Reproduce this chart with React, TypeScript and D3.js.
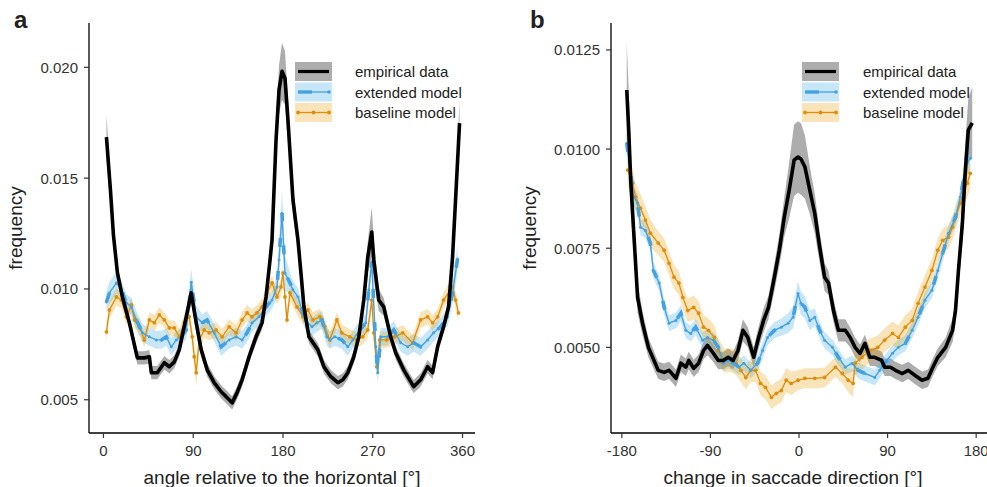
import React from 'react'
import * as d3 from 'd3'

// ---- panel a : angle relative to the horizontal ----
const angleEmpA = [3, 7, 10, 14, 19, 26, 34, 41, 46, 48, 54, 61, 66, 71, 76, 83, 88, 93, 98, 104, 111, 118, 123, 129, 134, 139, 146, 153, 159, 163, 167, 169, 173, 176, 179, 182, 185, 190, 195, 198, 201, 206, 215, 221, 228, 235, 240, 245, 251, 256, 261, 265, 269, 271, 276, 281, 288, 293, 301, 311, 318, 325, 330, 335, 341, 346, 350, 353, 357]
const empA = [0.01685, 0.01446, 0.01243, 0.01072, 0.00964, 0.00847, 0.00689, 0.00689, 0.00694, 0.00622, 0.00622, 0.00667, 0.00649, 0.00671, 0.00725, 0.00874, 0.00982, 0.00847, 0.00725, 0.00635, 0.00577, 0.00536, 0.00514, 0.00486, 0.00532, 0.0059, 0.00694, 0.00784, 0.00847, 0.00964, 0.01131, 0.01221, 0.01671, 0.01897, 0.01982, 0.01951, 0.01761, 0.01401, 0.01221, 0.01072, 0.00919, 0.00784, 0.00725, 0.00649, 0.00604, 0.00577, 0.0059, 0.00622, 0.00694, 0.00784, 0.0095, 0.01144, 0.01257, 0.01131, 0.0095, 0.00919, 0.00784, 0.00712, 0.00635, 0.00559, 0.0059, 0.00649, 0.00622, 0.00739, 0.00829, 0.00919, 0.01144, 0.01401, 0.01748]
const empSeA = [0.001, 0.0007, 0.0005, 0.0004, 0.0003, 0.0003, 0.0003, 0.0003, 0.0003, 0.0003, 0.0003, 0.0003, 0.0003, 0.0003, 0.0003, 0.0004, 0.0005, 0.0004, 0.0003, 0.0003, 0.0003, 0.0003, 0.0003, 0.0003, 0.0003, 0.0003, 0.0003, 0.0003, 0.0003, 0.0004, 0.0005, 0.0006, 0.0009, 0.0011, 0.0013, 0.0012, 0.001, 0.0007, 0.0005, 0.0004, 0.0004, 0.0003, 0.0003, 0.0003, 0.0003, 0.0003, 0.0003, 0.0003, 0.0003, 0.0003, 0.0004, 0.0007, 0.0011, 0.0009, 0.0005, 0.0004, 0.0003, 0.0003, 0.0003, 0.0003, 0.0003, 0.0003, 0.0003, 0.0003, 0.0003, 0.0004, 0.0005, 0.0007, 0.001]

const angleExtA = [3, 6, 13, 18, 23, 28, 33, 39, 46, 53, 58, 63, 68, 73, 78, 83, 88, 93, 99, 104, 111, 118, 126, 133, 139, 144, 149, 156, 163, 169, 174, 176, 179, 182, 187, 190, 195, 202, 209, 214, 219, 224, 227, 232, 239, 245, 250, 257, 263, 266, 269, 273, 275, 278, 285, 291, 298, 305, 311, 318, 325, 331, 338, 345, 350, 355]
const extA = [0.00941, 0.00982, 0.01027, 0.00996, 0.00937, 0.00919, 0.0086, 0.00802, 0.00784, 0.0077, 0.0077, 0.00784, 0.00739, 0.0077, 0.00784, 0.00815, 0.0103, 0.00874, 0.00847, 0.0086, 0.00802, 0.00739, 0.0077, 0.00784, 0.0077, 0.00802, 0.00847, 0.00874, 0.00919, 0.0095, 0.01009, 0.01131, 0.01342, 0.01072, 0.01027, 0.00996, 0.00964, 0.0086, 0.00829, 0.00847, 0.0086, 0.00784, 0.0077, 0.00784, 0.0077, 0.00739, 0.0077, 0.00815, 0.00847, 0.00996, 0.01122, 0.00739, 0.00622, 0.00784, 0.00784, 0.00815, 0.00757, 0.00739, 0.00757, 0.00739, 0.0077, 0.00802, 0.00829, 0.00874, 0.00982, 0.01135]
const extSeA = [0.0005, 0.0005, 0.0005, 0.0004, 0.0004, 0.0004, 0.0004, 0.0004, 0.0004, 0.0004, 0.0004, 0.0004, 0.0004, 0.0004, 0.0004, 0.0004, 0.0006, 0.0005, 0.0004, 0.0004, 0.0004, 0.0004, 0.0004, 0.0004, 0.0004, 0.0004, 0.0004, 0.0004, 0.0004, 0.0004, 0.0005, 0.0008, 0.001, 0.0008, 0.0005, 0.0004, 0.0004, 0.0004, 0.0004, 0.0004, 0.0004, 0.0004, 0.0004, 0.0004, 0.0004, 0.0004, 0.0004, 0.0004, 0.0004, 0.0005, 0.0006, 0.0005, 0.0005, 0.0004, 0.0004, 0.0004, 0.0004, 0.0004, 0.0004, 0.0004, 0.0004, 0.0004, 0.0004, 0.0004, 0.0005, 0.0006]

const angleBaseA = [3, 6, 13, 18, 23, 28, 31, 36, 41, 46, 51, 56, 61, 66, 71, 76, 81, 86, 89, 91, 93, 96, 101, 106, 113, 119, 126, 133, 139, 144, 149, 154, 159, 164, 169, 174, 178, 180, 182, 184, 187, 194, 200, 205, 210, 217, 222, 227, 234, 239, 247, 254, 260, 265, 269, 271, 274, 277, 284, 292, 300, 310, 318, 325, 330, 335, 341, 350, 353, 356]
const baseA = [0.00806, 0.00905, 0.00964, 0.0095, 0.00874, 0.00928, 0.0086, 0.00829, 0.0077, 0.0086, 0.00847, 0.00883, 0.0086, 0.00824, 0.00824, 0.00784, 0.00847, 0.00874, 0.00784, 0.00694, 0.00622, 0.0077, 0.00815, 0.00802, 0.00815, 0.00784, 0.00829, 0.00802, 0.0086, 0.00892, 0.00874, 0.00892, 0.00919, 0.00982, 0.01027, 0.00964, 0.01009, 0.01072, 0.00964, 0.0086, 0.00982, 0.00919, 0.00874, 0.00905, 0.0086, 0.00874, 0.00829, 0.0077, 0.0086, 0.00802, 0.00784, 0.0077, 0.00784, 0.00815, 0.0095, 0.00802, 0.00649, 0.0077, 0.0077, 0.00784, 0.00802, 0.00757, 0.0086, 0.00874, 0.00847, 0.00874, 0.0095, 0.01009, 0.0095, 0.00892]
const baseSeA = [0.0004, 0.0004, 0.0004, 0.00035, 0.00035, 0.00035, 0.00035, 0.00035, 0.00035, 0.00035, 0.00035, 0.00035, 0.00035, 0.00035, 0.00035, 0.00035, 0.00035, 0.00035, 0.0004, 0.0005, 0.0006, 0.0005, 0.00035, 0.00035, 0.00035, 0.00035, 0.00035, 0.00035, 0.00035, 0.00035, 0.00035, 0.00035, 0.00035, 0.00035, 0.00035, 0.00035, 0.0004, 0.0004, 0.0004, 0.0004, 0.00035, 0.00035, 0.00035, 0.00035, 0.00035, 0.00035, 0.00035, 0.00035, 0.00035, 0.00035, 0.00035, 0.00035, 0.00035, 0.00035, 0.0004, 0.0004, 0.0005, 0.0004, 0.00035, 0.00035, 0.00035, 0.00035, 0.00035, 0.00035, 0.00035, 0.00035, 0.00035, 0.0004, 0.0004, 0.0004]

// ---- panel b : change in saccade direction ----
const angleEmpB = [-175, -173, -171, -168, -164, -159, -153, -143, -137, -132, -125, -120, -115, -112, -107, -102, -97, -93, -87, -82, -77, -72, -67, -62, -57, -52, -46, -41, -36, -31, -25, -20, -15, -10, -5, -1, 2, 6, 11, 16, 21, 26, 30, 35, 40, 47, 52, 57, 62, 67, 72, 77, 84, 87, 93, 98, 105, 111, 118, 125, 131, 136, 141, 149, 156, 159, 162, 166, 169, 172, 176]
const empB = [0.01149, 0.01048, 0.00922, 0.00795, 0.00626, 0.00561, 0.005, 0.00442, 0.00437, 0.00442, 0.00422, 0.0046, 0.0045, 0.00467, 0.00447, 0.0046, 0.00492, 0.00505, 0.00485, 0.00467, 0.00467, 0.00475, 0.00467, 0.00492, 0.00543, 0.00525, 0.00475, 0.00525, 0.00568, 0.00601, 0.00677, 0.00745, 0.00828, 0.00896, 0.00972, 0.0098, 0.00975, 0.00955, 0.00896, 0.00838, 0.00753, 0.00677, 0.00662, 0.00593, 0.00543, 0.00543, 0.00525, 0.005, 0.00485, 0.0051, 0.00475, 0.00475, 0.00467, 0.0045, 0.0045, 0.00442, 0.00434, 0.00442, 0.00429, 0.00417, 0.00422, 0.0045, 0.00475, 0.005, 0.00543, 0.00593, 0.00694, 0.00813, 0.00947, 0.01048, 0.01066]
const empSeB = [0.0012, 0.001, 0.0008, 0.0006, 0.0004, 0.0003, 0.00025, 0.00022, 0.00022, 0.00022, 0.00022, 0.00022, 0.00022, 0.00022, 0.00022, 0.00022, 0.00022, 0.00025, 0.00022, 0.00022, 0.00022, 0.00022, 0.00022, 0.00025, 0.00028, 0.00025, 0.00025, 0.00028, 0.0003, 0.0003, 0.00035, 0.0004, 0.0005, 0.0007, 0.0009, 0.0009, 0.0009, 0.0008, 0.0006, 0.0005, 0.0004, 0.00035, 0.0003, 0.0003, 0.00028, 0.00028, 0.00025, 0.00025, 0.00022, 0.00022, 0.00022, 0.00022, 0.00022, 0.00022, 0.00022, 0.00022, 0.00022, 0.00022, 0.00022, 0.00022, 0.00022, 0.00022, 0.00022, 0.00025, 0.0003, 0.00035, 0.0004, 0.0005, 0.0007, 0.0008, 0.0009]

const angleExtB = [-175, -171, -168, -164, -161, -156, -151, -148, -142, -137, -132, -125, -120, -115, -110, -105, -98, -93, -87, -82, -77, -72, -66, -61, -56, -49, -42, -37, -32, -25, -18, -11, -6, -1, 2, 6, 11, 16, 21, 26, 34, 40, 47, 54, 60, 67, 77, 82, 87, 95, 101, 108, 115, 121, 128, 135, 141, 146, 152, 159, 164, 167, 171, 174]
const extB = [0.01015, 0.00939, 0.00879, 0.00864, 0.00803, 0.00795, 0.00763, 0.00694, 0.00662, 0.00601, 0.00561, 0.00568, 0.00586, 0.00543, 0.00535, 0.00551, 0.00518, 0.00525, 0.00518, 0.005, 0.0046, 0.00467, 0.0046, 0.0045, 0.0046, 0.00442, 0.0046, 0.00492, 0.00525, 0.00543, 0.00551, 0.00561, 0.00576, 0.00636, 0.00611, 0.00601, 0.00568, 0.00576, 0.00543, 0.00518, 0.005, 0.00475, 0.0045, 0.0046, 0.00442, 0.00434, 0.00424, 0.00442, 0.0046, 0.00485, 0.005, 0.0051, 0.00543, 0.00576, 0.00619, 0.00644, 0.00694, 0.00737, 0.00788, 0.00828, 0.00879, 0.00922, 0.00965, 0.00977]
const extSeB = [0.0004, 0.0003, 0.00025, 0.00022, 0.0002, 0.0002, 0.0002, 0.0002, 0.0002, 0.0002, 0.0002, 0.0002, 0.0002, 0.0002, 0.0002, 0.0002, 0.0002, 0.0002, 0.0002, 0.0002, 0.0002, 0.0002, 0.0002, 0.0002, 0.0002, 0.0002, 0.0002, 0.0002, 0.0002, 0.0002, 0.00022, 0.00025, 0.00028, 0.0003, 0.0003, 0.00028, 0.00025, 0.00022, 0.0002, 0.0002, 0.0002, 0.0002, 0.0002, 0.0002, 0.0002, 0.0002, 0.0002, 0.0002, 0.0002, 0.0002, 0.0002, 0.0002, 0.0002, 0.0002, 0.0002, 0.0002, 0.0002, 0.0002, 0.0002, 0.0002, 0.00022, 0.00025, 0.0003, 0.00035]

const angleBaseB = [-174, -169, -166, -161, -156, -151, -143, -137, -132, -127, -122, -118, -113, -107, -102, -97, -92, -86, -82, -76, -69, -64, -59, -54, -49, -44, -39, -34, -28, -23, -18, -13, -8, -1, 6, 16, 26, 37, 44, 50, 55, 57, 64, 72, 80, 87, 95, 101, 108, 115, 121, 128, 135, 141, 146, 152, 156, 159, 164, 167, 171, 174]
const baseB = [0.00947, 0.00914, 0.00879, 0.00851, 0.00821, 0.00788, 0.00763, 0.00745, 0.00712, 0.00677, 0.00662, 0.00626, 0.00593, 0.00601, 0.00586, 0.00551, 0.00543, 0.00525, 0.00492, 0.00467, 0.00467, 0.0046, 0.00442, 0.00424, 0.00442, 0.00442, 0.00409, 0.00399, 0.00374, 0.00384, 0.00391, 0.00417, 0.00409, 0.00417, 0.00422, 0.00422, 0.00424, 0.0045, 0.00434, 0.00417, 0.00409, 0.0046, 0.00475, 0.00492, 0.005, 0.00518, 0.00535, 0.00525, 0.00551, 0.00568, 0.00611, 0.00652, 0.00694, 0.00745, 0.0077, 0.00778, 0.00803, 0.00828, 0.00864, 0.00889, 0.00914, 0.00939]
const baseSeB = [0.0004, 0.00035, 0.00035, 0.00035, 0.00035, 0.00035, 0.0003, 0.0003, 0.0003, 0.0003, 0.0003, 0.0003, 0.0003, 0.0003, 0.0003, 0.0003, 0.0003, 0.0003, 0.0003, 0.0003, 0.0003, 0.0003, 0.0003, 0.0003, 0.0003, 0.0003, 0.0003, 0.0003, 0.0003, 0.0003, 0.0003, 0.0003, 0.0003, 0.00025, 0.00025, 0.00025, 0.00025, 0.00025, 0.00025, 0.0003, 0.00035, 0.0003, 0.0003, 0.0003, 0.0003, 0.0003, 0.0003, 0.0003, 0.0003, 0.0003, 0.0003, 0.0003, 0.0003, 0.0003, 0.0003, 0.0003, 0.0003, 0.0003, 0.0003, 0.0003, 0.00035, 0.0004]

const xTicksA = [0, 90, 180, 270, 360]
const yTicksA = [0.005, 0.01, 0.015, 0.02]
const xTicksB = [-180, -90, 0, 90, 180]
const yTicksB = [0.005, 0.0075, 0.01, 0.0125]
const legendLabels = ['empirical data', 'extended model', 'baseline model']

const FONT = '"Liberation Sans", Arial, Helvetica, sans-serif'
const TICK_GREY = '#333'
const EXT_FILL = '#56B4E9'
const EXT_LINE = '#45A2E0'
const BASE_FILL = '#E69F00'
const BASE_LINE = '#DE8E0A'

type Series = { x: number[]; y: number[]; se: number[] }

const TOP = 23
const BOTTOM = 433

function Panel(props: {
  x0: number; x1: number
  xDomain: [number, number]; yDomain: [number, number]
  xTicks: number[]; yTicks: number[]; yFmt: string
  xTitle: string; letter: string; letterX: number; yTitleX: number
  legendX: number; legendTextX: number
  emp: Series; ext: Series; base: Series
}) {
  const p = props
  const x = d3.scaleLinear().domain(p.xDomain).range([p.x0, p.x1])
  const y = d3.scaleLinear().domain(p.yDomain).range([BOTTOM, TOP])
  const fmt = d3.format(p.yFmt)

  const band = (s: Series) =>
    d3.area<number>()
      .x((_, i) => x(s.x[i]))
      .y0((v, i) => y(v - s.se[i]))
      .y1((v, i) => y(v + s.se[i]))(s.y) || ''
  const line = (s: Series) =>
    d3.line<number>().x((_, i) => x(s.x[i])).y(v => y(v))(s.y) || ''

  const midX = (p.x0 + Math.min(p.x1, 975)) / 2
  const lx = p.legendX
  const rows = [62, 82.5, 103]

  return (
    <g>
      <text x={p.letterX} y={28} fontSize={24} fontWeight="bold" fill="#222" fontFamily={FONT}>{p.letter}</text>

      {/* ribbons */}
      <path d={band(p.emp)} fill="#999" fillOpacity={0.8} />
      <path d={band(p.ext)} fill={EXT_FILL} fillOpacity={0.33} />
      <path d={band(p.base)} fill={BASE_FILL} fillOpacity={0.28} />

      {/* baseline model */}
      <path d={line(p.base)} fill="none" stroke={BASE_LINE} strokeWidth={1.3} />
      {p.base.y.map((v, i) => (
        <circle key={'b' + i} cx={x(p.base.x[i])} cy={y(v)} r={1.9} fill={BASE_LINE} />
      ))}

      {/* extended model */}
      <path d={line(p.ext)} fill="none" stroke={EXT_LINE} strokeWidth={1.4} />
      <path d={line(p.ext)} fill="none" stroke={EXT_LINE} strokeWidth={3.6} strokeDasharray="9 24" />
      {p.ext.y.map((v, i) => (
        <circle key={'e' + i} cx={x(p.ext.x[i])} cy={y(v)} r={1.5} fill={EXT_LINE} />
      ))}

      {/* empirical */}
      <path d={line(p.emp)} fill="none" stroke="#000" strokeWidth={3.6} strokeLinejoin="round" />

      {/* axes */}
      <line x1={p.x0} x2={p.x1} y1={BOTTOM} y2={BOTTOM} stroke="#000" strokeWidth={1.3} />
      <line x1={p.x0} x2={p.x0} y1={TOP} y2={BOTTOM} stroke="#000" strokeWidth={1.3} />
      {p.xTicks.map(t => (
        <g key={'xt' + t}>
          <line x1={x(t)} x2={x(t)} y1={BOTTOM} y2={BOTTOM + 5} stroke="#333" strokeWidth={1.2} />
          <text x={x(t)} y={456} textAnchor="middle" fontSize={15} fill={TICK_GREY} fontFamily={FONT}>{t}</text>
        </g>
      ))}
      {p.yTicks.map(t => (
        <g key={'yt' + t}>
          <line x1={p.x0 - 5} x2={p.x0} y1={y(t)} y2={y(t)} stroke="#333" strokeWidth={1.2} />
          <text x={p.x0 - 11} y={y(t) + 5.5} textAnchor="end" fontSize={15} fill={TICK_GREY} fontFamily={FONT}>{fmt(t)}</text>
        </g>
      ))}
      <text x={midX} y={484} textAnchor="middle" fontSize={19} fill="#222" fontFamily={FONT}>{p.xTitle}</text>
      <text transform={`translate(${p.yTitleX},${(TOP + BOTTOM) / 2}) rotate(-90)`} textAnchor="middle" fontSize={19} fill="#222" fontFamily={FONT}>frequency</text>

      {/* legend */}
      <rect x={lx} y={rows[0]} width={37} height={19} fill="#999" fillOpacity={0.8} />
      <rect x={lx} y={rows[1]} width={37} height={19} fill={EXT_FILL} fillOpacity={0.33} />
      <rect x={lx} y={rows[2]} width={37} height={19} fill={BASE_FILL} fillOpacity={0.28} />
      <line x1={lx + 3} x2={lx + 34} y1={rows[0] + 9.5} y2={rows[0] + 9.5} stroke="#000" strokeWidth={3.2} />
      <line x1={lx + 3} x2={lx + 17} y1={rows[1] + 9.5} y2={rows[1] + 9.5} stroke={EXT_LINE} strokeWidth={3.4} />
      <line x1={lx + 17} x2={lx + 34} y1={rows[1] + 9.5} y2={rows[1] + 9.5} stroke={EXT_LINE} strokeWidth={1.3} />
      <circle cx={lx + 34} cy={rows[1] + 9.5} r={1.8} fill={EXT_LINE} />
      <line x1={lx + 3} x2={lx + 34} y1={rows[2] + 9.5} y2={rows[2] + 9.5} stroke={BASE_LINE} strokeWidth={1.3} />
      {[3, 18.5, 34].map(o => (
        <circle key={'lo' + o} cx={lx + o} cy={rows[2] + 9.5} r={1.9} fill={BASE_LINE} />
      ))}
      {legendLabels.map((l, i) => (
        <text key={l} x={p.legendTextX} y={rows[i] + 15} fontSize={15} fill="#222" fontFamily={FONT}>{l}</text>
      ))}
    </g>
  )
}

export default function App() {
  return (
    <svg width={987} height={487} style={{ position: 'absolute', left: 0, top: 0, background: '#fff' }}>
      <rect width={987} height={487} fill="#fff" />
      <Panel
        x0={89} x1={475} xDomain={[-14.5, 372.5]} yDomain={[0.0035, 0.022]}
        xTicks={xTicksA} yTicks={yTicksA} yFmt=".3f"
        xTitle="angle relative to the horizontal [°]" letter="a" letterX={14} yTitleX={22}
        legendX={295} legendTextX={355}
        emp={{ x: angleEmpA, y: empA, se: empSeA }}
        ext={{ x: angleExtA, y: extA, se: extSeA }}
        base={{ x: angleBaseA, y: baseA, se: baseSeA }}
      />
      <Panel
        x0={611} x1={987} xDomain={[-191, 191]} yDomain={[0.00284, 0.01318]}
        xTicks={xTicksB} yTicks={yTicksB} yFmt=".4f"
        xTitle="change in saccade direction [°]" letter="b" letterX={530} yTitleX={536}
        legendX={802} legendTextX={863}
        emp={{ x: angleEmpB, y: empB, se: empSeB }}
        ext={{ x: angleExtB, y: extB, se: extSeB }}
        base={{ x: angleBaseB, y: baseB, se: baseSeB }}
      />
    </svg>
  )
}
